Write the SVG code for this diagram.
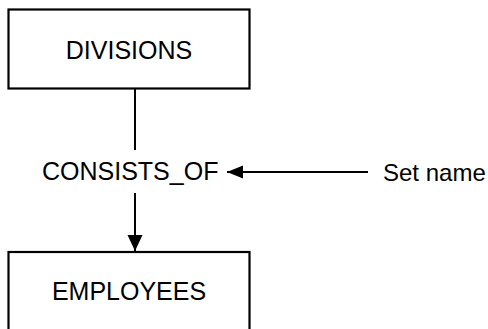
<svg xmlns="http://www.w3.org/2000/svg" width="488" height="329" viewBox="0 0 488 329">
<style>
.box{fill:#fff;stroke:#000;stroke-width:2.2}
.t{font-family:"Liberation Sans",Arial,sans-serif;font-size:25px;fill:#000}
.c{stroke:#000;stroke-width:2;fill:none}
</style>
<defs>
<marker id="ah" markerUnits="userSpaceOnUse" markerWidth="16" markerHeight="16" viewBox="0 0 16 16" refX="16" refY="8" orient="auto">
<path d="M0,0.5 L16,8 L0,15.5 Z" fill="#000"/>
</marker>
<marker id="ah2" markerUnits="userSpaceOnUse" markerWidth="16" markerHeight="14" viewBox="0 0 16 14" refX="16" refY="7" orient="auto">
<path d="M0,0.5 L16,7 L0,13.5 Z" fill="#000"/>
</marker>
</defs>
<rect width="488" height="329" fill="#fff"/>
<g id="divisions">
<rect class="box" x="8.5" y="9.5" width="241" height="79"/>
<text class="t" x="129" y="58.5" text-anchor="middle">DIVISIONS</text>
</g>
<g id="employees">
<rect class="box" x="8.5" y="252" width="241" height="100"/>
<text class="t" x="129" y="300" text-anchor="middle">EMPLOYEES</text>
</g>
<g id="consists_of">
<text class="t" x="42" y="180">CONSISTS_OF</text>
</g>
<g id="setname">
<text class="t" x="383" y="181" style="font-size:24px">Set name</text>
</g>
<g id="connectors">
<line class="c" x1="135" y1="88" x2="135" y2="150"/>
<line class="c" x1="135" y1="193" x2="135" y2="251" marker-end="url(#ah)"/>
<line class="c" x1="368" y1="172" x2="227" y2="172" marker-end="url(#ah2)"/>
</g>
</svg>
